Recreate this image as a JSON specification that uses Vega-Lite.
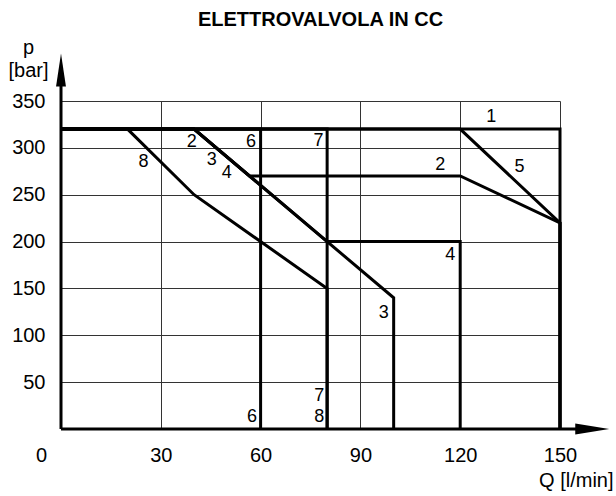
{
  "$schema": "https://vega.github.io/schema/vega-lite/v6.json",
  "autosize": {"type": "none"},
  "padding": {"left": 61, "top": 101, "right": 56, "bottom": 67},
  "width": 499,
  "height": 328,
  "background": "white",
  "config": {"view": {"stroke": null}, "font": "Liberation Sans"},
  "title": {
    "text": "ELETTROVALVOLA IN CC",
    "font": "Liberation Sans",
    "fontSize": 20,
    "fontWeight": "bold",
    "color": "black",
    "anchor": "middle",
    "frame": "group",
    "baseline": "alphabetic",
    "offset": 13,
    "dx": 10,
    "dy": 22
  },
  "datasets": {
    "curves": [
      {"curve": "1", "ord": 0, "q": 0, "p": 320},
      {"curve": "1", "ord": 1, "q": 150, "p": 320},
      {"curve": "1", "ord": 2, "q": 150, "p": 0},
      {"curve": "2", "ord": 0, "q": 0, "p": 320},
      {"curve": "2", "ord": 1, "q": 40, "p": 320},
      {"curve": "2", "ord": 2, "q": 56.67, "p": 270},
      {"curve": "2", "ord": 3, "q": 120, "p": 270},
      {"curve": "2", "ord": 4, "q": 150, "p": 220},
      {"curve": "2", "ord": 5, "q": 150, "p": 0},
      {"curve": "3", "ord": 0, "q": 0, "p": 320},
      {"curve": "3", "ord": 1, "q": 40, "p": 320},
      {"curve": "3", "ord": 2, "q": 100, "p": 140},
      {"curve": "3", "ord": 3, "q": 100, "p": 0},
      {"curve": "4", "ord": 0, "q": 0, "p": 320},
      {"curve": "4", "ord": 1, "q": 40, "p": 320},
      {"curve": "4", "ord": 2, "q": 80, "p": 200},
      {"curve": "4", "ord": 3, "q": 120, "p": 200},
      {"curve": "4", "ord": 4, "q": 120, "p": 0},
      {"curve": "5", "ord": 0, "q": 0, "p": 320},
      {"curve": "5", "ord": 1, "q": 120, "p": 320},
      {"curve": "5", "ord": 2, "q": 150, "p": 220},
      {"curve": "5", "ord": 3, "q": 150, "p": 0},
      {"curve": "6", "ord": 0, "q": 0, "p": 320},
      {"curve": "6", "ord": 1, "q": 60, "p": 320},
      {"curve": "6", "ord": 2, "q": 60, "p": 0},
      {"curve": "7", "ord": 0, "q": 0, "p": 320},
      {"curve": "7", "ord": 1, "q": 80, "p": 320},
      {"curve": "7", "ord": 2, "q": 80, "p": 0},
      {"curve": "8", "ord": 0, "q": 0, "p": 320},
      {"curve": "8", "ord": 1, "q": 20, "p": 320},
      {"curve": "8", "ord": 2, "q": 40, "p": 250},
      {"curve": "8", "ord": 3, "q": 80, "p": 150},
      {"curve": "8", "ord": 4, "q": 80, "p": 0}
    ],
    "labels": [
      {"t": "1", "q": 129.3, "p": 333},
      {"t": "2", "q": 39.3, "p": 306.6},
      {"t": "6", "q": 57.1, "p": 306.6},
      {"t": "7", "q": 77.4, "p": 307},
      {"t": "8", "q": 24.8, "p": 285},
      {"t": "3", "q": 45.3, "p": 287},
      {"t": "4", "q": 49.8, "p": 273.5},
      {"t": "2", "q": 114, "p": 281.7},
      {"t": "5", "q": 137.8, "p": 280},
      {"t": "4", "q": 117, "p": 185.7},
      {"t": "3", "q": 97, "p": 123.5},
      {"t": "6", "q": 57.4, "p": 13},
      {"t": "7", "q": 77.6, "p": 35},
      {"t": "8", "q": 77.6, "p": 13}
    ],
    "axes": [
      {"q": 0, "p": 0, "q2": 0, "p2": 375},
      {"q": 0, "p": 0, "q2": 160, "p2": 0}
    ]
  },
  "layer": [
    {
      "data": {"name": "curves"},
      "mark": {"type": "line", "color": "black", "strokeWidth": 3, "strokeJoin": "miter"},
      "encoding": {
        "x": {
          "field": "q",
          "type": "quantitative",
          "scale": {"domain": [0, 150], "nice": false, "zero": true},
          "axis": {
            "values": [0, 30, 60, 90, 120, 150],
            "grid": true,
            "gridColor": "#333333",
            "gridWidth": 1,
            "domain": false,
            "ticks": false,
            "labelFont": "Liberation Sans",
            "labelFontSize": 20,
            "labelColor": "black",
            "labelPadding": 16,
            "labelFlush": false,
            "labelOffset": {"condition": {"test": "datum.value == 0", "value": -20}, "value": 0},
            "title": "Q [l/min]",
            "titleFont": "Liberation Sans",
            "titleFontSize": 20,
            "titleFontWeight": "normal",
            "titleColor": "black",
            "titleAlign": "right",
            "titleBaseline": "alphabetic",
            "titleX": 552,
            "titleY": 57
          }
        },
        "y": {
          "field": "p",
          "type": "quantitative",
          "scale": {"domain": [0, 350], "nice": false, "zero": true},
          "axis": {
            "values": [0, 50, 100, 150, 200, 250, 300, 350],
            "labelExpr": "datum.value == 0 ? '' : datum.label",
            "grid": true,
            "gridColor": "#333333",
            "gridWidth": 1,
            "domain": false,
            "ticks": false,
            "labelFont": "Liberation Sans",
            "labelFontSize": 20,
            "labelColor": "black",
            "labelPadding": 16,
            "labelFlush": false,
            "title": ["p", "[bar]"],
            "titleFont": "Liberation Sans",
            "titleFontSize": 20,
            "titleFontWeight": "normal",
            "titleColor": "black",
            "titleAngle": 0,
            "titleAlign": "center",
            "titleBaseline": "alphabetic",
            "titleLineHeight": 23,
            "titleX": -33,
            "titleY": -48
          }
        },
        "detail": {"field": "curve", "type": "nominal"},
        "order": {"field": "ord", "type": "quantitative"}
      }
    },
    {
      "data": {"name": "axes"},
      "mark": {"type": "rule", "color": "black", "strokeWidth": 3},
      "encoding": {
        "x": {"field": "q", "type": "quantitative"},
        "y": {"field": "p", "type": "quantitative"},
        "x2": {"field": "q2"},
        "y2": {"field": "p2"}
      }
    },
    {
      "data": {"values": [{"q": 0, "p": 383}]},
      "mark": {"type": "point", "shape": "M0,-1L0.3,1L-0.3,1Z", "size": 1089, "filled": true, "color": "black", "opacity": 1},
      "encoding": {
        "x": {"field": "q", "type": "quantitative"},
        "y": {"field": "p", "type": "quantitative"}
      }
    },
    {
      "data": {"values": [{"q": 159.7, "p": 0}]},
      "mark": {"type": "point", "shape": "M1,0L-1,0.33L-1,-0.33Z", "size": 1156, "filled": true, "color": "black", "opacity": 1},
      "encoding": {
        "x": {"field": "q", "type": "quantitative"},
        "y": {"field": "p", "type": "quantitative"}
      }
    },
    {
      "data": {"name": "labels"},
      "mark": {"type": "text", "font": "Liberation Sans", "fontSize": 18, "color": "black", "align": "center", "baseline": "middle"},
      "encoding": {
        "x": {"field": "q", "type": "quantitative"},
        "y": {"field": "p", "type": "quantitative"},
        "text": {"field": "t", "type": "nominal"}
      }
    }
  ]
}
